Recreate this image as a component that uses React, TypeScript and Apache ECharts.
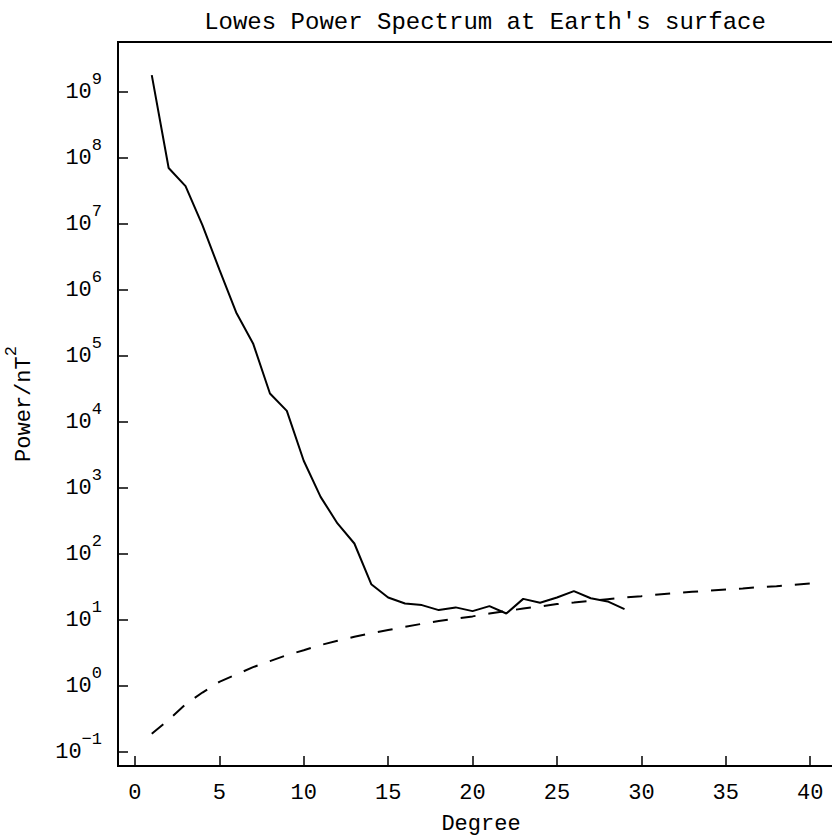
import React, { useEffect, useRef } from 'react';
import * as echarts from 'echarts';

// Lowes power spectrum (solid) by spherical-harmonic degree
const degrees = [1, 2, 3, 4, 5, 6, 7, 8, 9, 10, 11, 12, 13, 14, 15, 16, 17, 18, 19, 20, 21, 22, 23, 24, 25, 26, 27, 28, 29];
const power = [1.81e9, 7.1e7, 3.77e7, 9.7e6, 2.06e6, 4.6e5, 1.56e5, 2.72e4, 1.48e4, 2.6e3, 738, 292, 145, 35, 22, 17.9, 16.9, 14.2, 15.6, 13.7, 16.3, 12.6, 21.0, 18.3, 22, 27.5, 21.5, 19.2, 14.7];

// Dashed reference curve
const noiseDegrees = [1, 2, 3, 4, 5, 6, 7, 8, 9, 10, 11, 12, 13, 14, 15, 16, 17, 18, 19, 20, 21, 22, 23, 24, 25, 26, 27, 28, 29, 30, 31, 32, 33, 34, 35, 36, 37, 38, 39, 40];
const noise = [0.19, 0.31, 0.53, 0.8, 1.16, 1.5, 1.94, 2.39, 2.95, 3.5, 4.2, 4.86, 5.6, 6.35, 7.1, 7.9, 8.8, 9.7, 10.5, 11.4, 12.6, 13.7, 15.0, 16.1, 17.5, 18.5, 19.6, 20.8, 22.0, 23.1, 24.5, 25.7, 26.9, 27.9, 29.2, 30.2, 31.6, 32.7, 34.3, 36];

const xTicks = [0, 5, 10, 15, 20, 25, 30, 35, 40];
const yExponents = [-1, 0, 1, 2, 3, 4, 5, 6, 7, 8, 9];

const FONT = 'Liberation Mono';

function expText(v: number): string {
  const n = Math.round(v);
  return n < 0 ? '\u2212' + Math.abs(n) : String(n);
}

export default function App() {
  const ref = useRef<HTMLDivElement>(null);

  useEffect(() => {
    if (!ref.current) return;
    const chart = echarts.init(ref.current, undefined, { renderer: 'svg' });
    const richLabel = {
      b: { fontFamily: FONT, fontSize: 22, color: '#000', lineHeight: 42 },
      s: { fontFamily: FONT, fontSize: 17, color: '#000', lineHeight: 18, verticalAlign: 'top' },
    };
    const option: any = {
      animation: false,
      backgroundColor: '#fff',
      title: {
        text: "Lowes Power Spectrum at Earth's surface",
        left: 480,
        top: 5,
        textAlign: 'center',
        textStyle: { fontFamily: FONT, fontSize: 24, fontWeight: 'normal', color: '#000' },
      },
      grid: {
        left: 118,
        top: 42,
        right: -12,
        bottom: 71,
        show: true,
        borderColor: '#000',
        borderWidth: 2,
        backgroundColor: 'transparent',
        containLabel: false,
        outerBoundsMode: 'none',
      },
      xAxis: {
        type: 'value',
        min: -1,
        max: 42,
        axisLine: { show: true, onZero: false, lineStyle: { color: '#000', width: 2 } },
        axisTick: { show: true, inside: true, length: 10, customValues: xTicks, lineStyle: { color: '#000', width: 1.5 } },
        axisLabel: { customValues: xTicks, margin: 16, fontFamily: FONT, fontSize: 22, color: '#000' },
        splitLine: { show: false },
        name: 'Degree',
        nameLocation: 'middle',
        nameGap: 47,
        nameTextStyle: { fontFamily: FONT, fontSize: 22, color: '#000' },
      },
      yAxis: {
        type: 'value',
        min: -1.21,
        max: 9.76,
        axisLine: { show: true, onZero: false, lineStyle: { color: '#000', width: 2 } },
        axisTick: { show: true, inside: true, length: 10, customValues: yExponents, lineStyle: { color: '#000', width: 1.5 } },
        axisLabel: {
          customValues: yExponents,
          margin: 16,
          formatter: (v: number) => `{b|10}{s|${expText(v)}}`,
          rich: richLabel,
        },
        splitLine: { show: false },
        name: '{b|Power/nT}{s|2}',
        nameLocation: 'middle',
        nameGap: 73,
        nameTextStyle: { rich: richLabel },
      },
      series: [
        {
          type: 'line',
          data: degrees.map((d, i) => [d, Math.log10(power[i])]),
          showSymbol: false,
          lineStyle: { color: '#000', width: 2 },
        },
        {
          type: 'line',
          data: noiseDegrees.map((d, i) => [d, Math.log10(noise[i])]),
          showSymbol: false,
          lineStyle: { color: '#000', width: 2, type: [15, 13] },
        },
      ],
    };
    chart.setOption(option);
    return () => chart.dispose();
  }, []);

  return (
    <div
      ref={ref}
      style={{ position: 'absolute', left: 0, top: 0, width: 832, height: 837 }}
    />
  );
}
